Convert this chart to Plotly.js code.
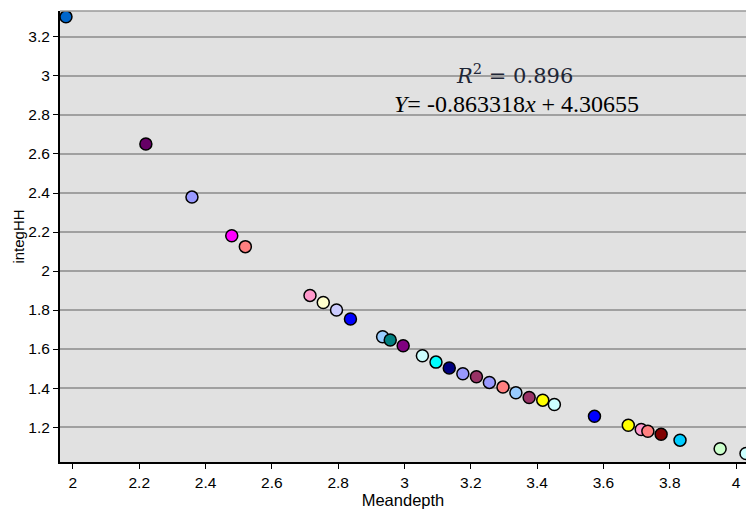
<!DOCTYPE html>
<html>
<head>
<meta charset="utf-8">
<script src="https://cdn.plot.ly/plotly-3.0.1.min.js"></script>
<style>html,body{margin:0;padding:0;background:#fff}#chart{width:746px;height:516px}</style>
</head>
<body>
<div id="chart"></div>
<script>
const meandepth = [1.979, 2.220, 2.359, 2.479, 2.520, 2.715, 2.755, 2.795, 2.837, 2.934, 2.957, 2.996,
  3.054, 3.095, 3.135, 3.176, 3.217, 3.256, 3.297, 3.336, 3.376, 3.417, 3.452, 3.573,
  3.675, 3.714, 3.734, 3.774, 3.831, 3.952, 4.030];
const integHH = [3.303, 2.651, 2.379, 2.181, 2.125, 1.875, 1.839, 1.800, 1.754, 1.663, 1.646, 1.617,
  1.566, 1.533, 1.503, 1.473, 1.458, 1.429, 1.405, 1.376, 1.352, 1.338, 1.316, 1.255,
  1.209, 1.188, 1.179, 1.163, 1.133, 1.089, 1.065];
const pointColors = ['#0066CC', '#660066', '#9999FF', '#FF00FF', '#FF8080', '#FF99CC', '#FFFFCC', '#CCCCFF',
  '#0000FF', '#99CCFF', '#008080', '#800080', '#CCFFFF', '#00FFFF', '#000080', '#9999FF',
  '#993366', '#9999FF', '#FF8080', '#99CCFF', '#993366', '#FFFF00', '#CCFFFF', '#0000FF',
  '#FFFF00', '#FF99CC', '#FF8080', '#800000', '#00CCFF', '#CCFFCC', '#CCFFFF'];
const xTicks = [2, 2.2, 2.4, 2.6, 2.8, 3, 3.2, 3.4, 3.6, 3.8, 4];
const yTicks = [1.2, 1.4, 1.6, 1.8, 2, 2.2, 2.4, 2.6, 2.8, 3, 3.2];

const tickFont = {family: 'Liberation Sans, Arial, sans-serif', size: 15.5, color: '#000'};
const trace = {
  x: meandepth, y: integHH, type: 'scatter', mode: 'markers', cliponaxis: true,
  marker: {size: 12, color: pointColors, line: {color: '#000', width: 1.5}},
  hoverinfo: 'x+y'
};
const layout = {
  width: 746, height: 516,
  margin: {l: 60, r: 0, t: 11, b: 54},
  paper_bgcolor: '#ffffff', plot_bgcolor: '#e1e1e1',
  showlegend: false,
  font: {family: 'Liberation Sans, Arial, sans-serif', size: 15, color: '#000'},
  xaxis: {
    range: [1.961, 4.030], tickmode: 'array', tickvals: xTicks, ticktext: xTicks.map(String),
    showgrid: false, zeroline: false, showline: true, linecolor: '#000', linewidth: 2,
    ticks: 'outside', ticklen: 5, tickcolor: '#000', tickwidth: 1,
    tickfont: tickFont,
    title: {text: 'Meandepth', font: {size: 16.5}, standoff: 4}
  },
  yaxis: {
    range: [1.021, 3.333], tickmode: 'array', tickvals: yTicks, ticktext: yTicks.map(String),
    showgrid: true, gridcolor: '#a0a0a0', gridwidth: 1.5, zeroline: false,
    showline: true, linecolor: '#000', linewidth: 2,
    ticks: 'outside', ticklen: 5, tickcolor: '#000', tickwidth: 1,
    tickfont: tickFont,
    title: {text: 'integHH', font: {size: 15}, standoff: 0}
  },
  shapes: [
    {type: 'line', xref: 'paper', yref: 'paper', x0: 0, x1: 1, y0: 1, y1: 1, line: {color: '#999', width: 1.5}}
  ],
  annotations: [
    {xref: 'paper', yref: 'paper', x: (514 - 60) / 686, y: (462 - 58) / 451, showarrow: false,
     text: '<i>R</i><sup>2</sup> = 0.896', font: {family: 'DejaVu Serif, serif', size: 21, color: '#1e2636'}},
    {xref: 'paper', yref: 'paper', x: (516 - 60) / 686, y: (462 - 89) / 451, showarrow: false,
     text: '<i>Y</i>= -0.863318<i>x</i> + 4.30655', font: {family: 'Liberation Serif, Times New Roman, serif', size: 24, color: '#000'}}
  ]
};
Plotly.newPlot('chart', [trace], layout, {displayModeBar: false, staticPlot: true});
</script>
</body>
</html>
